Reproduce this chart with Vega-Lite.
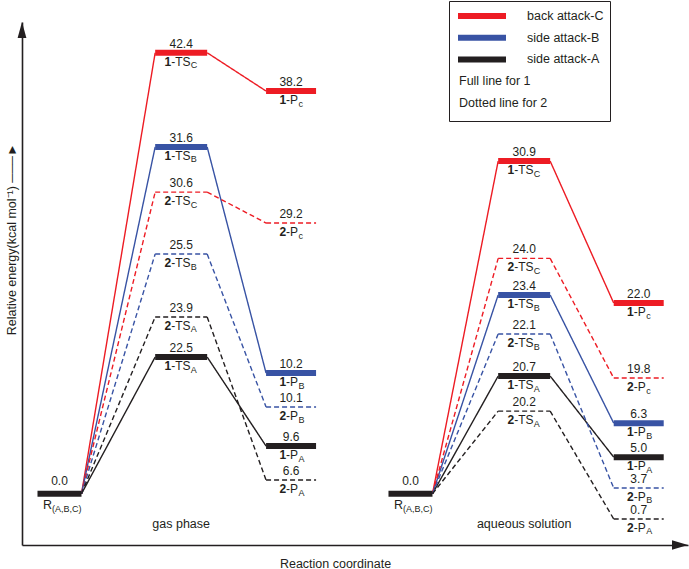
{
  "$schema": "https://vega.github.io/schema/vega-lite/v6.json",
  "width": 666,
  "height": 523,
  "autosize": {"type": "none"},
  "padding": {"left": 22, "top": 22, "right": 1, "bottom": 24},
  "background": "white",
  "datasets": {
    "paths": [
      {"phase": "gas", "cpd": "1", "attack": "back attack-C", "e_ts": 42.4, "lv_ts": 42.16, "e_p": 38.2, "lv_p": 38.5, "sub_ts": "C", "sub_p": "c"},
      {"phase": "gas", "cpd": "1", "attack": "side attack-B", "e_ts": 31.6, "lv_ts": 33.15, "e_p": 10.2, "lv_p": 11.54, "sub_ts": "B", "sub_p": "B"},
      {"phase": "gas", "cpd": "1", "attack": "side attack-A", "e_ts": 22.5, "lv_ts": 13.07, "e_p": 9.6, "lv_p": 4.56, "sub_ts": "A", "sub_p": "A"},
      {"phase": "gas", "cpd": "2", "attack": "back attack-C", "e_ts": 30.6, "lv_ts": 28.84, "e_p": 29.2, "lv_p": 25.88, "sub_ts": "C", "sub_p": "c"},
      {"phase": "gas", "cpd": "2", "attack": "side attack-B", "e_ts": 25.5, "lv_ts": 22.92, "e_p": 10.1, "lv_p": 8.29, "sub_ts": "B", "sub_p": "B"},
      {"phase": "gas", "cpd": "2", "attack": "side attack-A", "e_ts": 23.9, "lv_ts": 16.9, "e_p": 6.6, "lv_p": 1.31, "sub_ts": "A", "sub_p": "A"},
      {"phase": "aqueous", "cpd": "1", "attack": "back attack-C", "e_ts": 30.9, "lv_ts": 31.8, "e_p": 22.0, "lv_p": 18.23, "sub_ts": "C", "sub_p": "c"},
      {"phase": "aqueous", "cpd": "1", "attack": "side attack-B", "e_ts": 23.4, "lv_ts": 19.0, "e_p": 6.3, "lv_p": 6.75, "sub_ts": "B", "sub_p": "B"},
      {"phase": "aqueous", "cpd": "1", "attack": "side attack-A", "e_ts": 20.7, "lv_ts": 11.25, "e_p": 5.0, "lv_p": 3.5, "sub_ts": "A", "sub_p": "A"},
      {"phase": "aqueous", "cpd": "2", "attack": "back attack-C", "e_ts": 24.0, "lv_ts": 22.5, "e_p": 19.8, "lv_p": 11.06, "sub_ts": "C", "sub_p": "c"},
      {"phase": "aqueous", "cpd": "2", "attack": "side attack-B", "e_ts": 22.1, "lv_ts": 15.27, "e_p": 3.7, "lv_p": 0.55, "sub_ts": "B", "sub_p": "B"},
      {"phase": "aqueous", "cpd": "2", "attack": "side attack-A", "e_ts": 20.2, "lv_ts": 7.9, "e_p": 0.7, "lv_p": -2.41, "sub_ts": "A", "sub_p": "A"}
    ],
    "stages": [
      {"phase": "gas", "label": "gas phase", "rc_r": 5.63, "rc_ts": 23.9, "rc_p": 40.4, "e_r": 0.0, "lv_r": 0},
      {"phase": "aqueous", "label": "aqueous solution", "rc_r": 58.33, "rc_ts": 75.4, "rc_p": 92.6, "e_r": 0.0, "lv_r": 0}
    ]
  },
  "config": {
    "font": "Liberation Sans",
    "view": {"stroke": null},
    "text": {"color": "#231f20", "fontSize": 12, "font": "Liberation Sans"},
    "axis": {"titleFont": "Liberation Sans", "titleFontWeight": "normal", "titleFontSize": 12.5, "titleColor": "#231f20"}
  },
  "layer": [
    {
      "data": {"name": "paths"},
      "transform": [
        {"lookup": "phase", "from": {"data": {"name": "stages"}, "key": "phase", "fields": ["rc_r", "rc_ts", "rc_p", "lv_r"]}}
      ],
      "layer": [
        {
          "mark": {"type": "rule", "strokeWidth": 1.4, "xOffset": 22, "x2Offset": -26},
          "encoding": {
            "x": {"field": "rc_r", "type": "quantitative", "scale": {"domain": [0, 100], "nice": false, "zero": false},
              "axis": {"title": "Reaction coordinate", "ticks": false, "labels": false, "grid": false, "domainColor": "#231f20", "domainWidth": 1.6, "titleX": 313, "titlePadding": 12}},
            "x2": {"field": "rc_ts"},
            "y": {"field": "lv_r", "type": "quantitative", "scale": {"domain": [-4.9, 45.1], "nice": false, "zero": false},
              "axis": {"title": "Relative energy(kcal mol⁻¹)  ───►", "ticks": false, "labels": false, "grid": false, "domainColor": "#231f20", "domainWidth": 1.6, "titleX": -4, "titleY": 217, "titleAngle": -90, "titleBaseline": "bottom", "titleAlign": "center"}},
            "y2": {"field": "lv_ts"},
            "color": {"field": "attack", "type": "nominal",
              "scale": {"domain": ["back attack-C", "side attack-B", "side attack-A", "Full line for 1", "Dotted line for 2"], "range": ["#ed1c24", "#3853a4", "#231f20", "transparent", "transparent"]},
              "legend": {"title": null, "orient": "none", "legendX": 427, "legendY": -21, "symbolType": "M-1,0H7", "symbolSize": 144, "symbolStrokeWidth": 6, "labelFontSize": 12.5, "labelFont": "Liberation Sans", "labelColor": "#231f20", "labelOffset": 54, "padding": 6, "strokeColor": "#231f20", "fillColor": "white", "rowPadding": -2.3,
                "labelExpr": "datum.label == 'back attack-C' ? datum.label + '\u00a0\u00a0\u00a0\u00a0\u00a0\u00a0\u00a0' : datum.label",
                "encode": {"labels": {"update": {"dx": {"signal": "datum.label == 'Full line for 1' || datum.label == 'Dotted line for 2' ? -68 : 0"}}}}}},
            "strokeDash": {"condition": {"test": "datum.cpd == '2'", "value": [5, 3]}, "value": [1, 0]}
          }
        },
        {
          "mark": {"type": "rule", "strokeWidth": 1.4, "xOffset": 26, "x2Offset": -25},
          "encoding": {
            "x": {"field": "rc_ts", "type": "quantitative"},
            "x2": {"field": "rc_p"},
            "y": {"field": "lv_ts", "type": "quantitative"},
            "y2": {"field": "lv_p"},
            "color": {"field": "attack", "type": "nominal"},
            "strokeDash": {"condition": {"test": "datum.cpd == '2'", "value": [5, 3]}, "value": [1, 0]}
          }
        },
        {
          "mark": {"type": "rule", "xOffset": -26, "x2Offset": 26},
          "encoding": {
            "x": {"field": "rc_ts", "type": "quantitative"},
            "x2": {"field": "rc_ts"},
            "y": {"field": "lv_ts", "type": "quantitative"},
            "color": {"field": "attack", "type": "nominal"},
            "strokeWidth": {"condition": {"test": "datum.cpd == '2'", "value": 1.4}, "value": 6},
            "strokeDash": {"condition": {"test": "datum.cpd == '2'", "value": [5, 3]}, "value": [1, 0]}
          }
        },
        {
          "mark": {"type": "rule", "xOffset": -25, "x2Offset": 25},
          "encoding": {
            "x": {"field": "rc_p", "type": "quantitative"},
            "x2": {"field": "rc_p"},
            "y": {"field": "lv_p", "type": "quantitative"},
            "color": {"field": "attack", "type": "nominal"},
            "strokeWidth": {"condition": {"test": "datum.cpd == '2'", "value": 1.4}, "value": 6},
            "strokeDash": {"condition": {"test": "datum.cpd == '2'", "value": [5, 3]}, "value": [1, 0]}
          }
        },
        {
          "mark": {"type": "text", "align": "center", "baseline": "alphabetic", "dy": -5},
          "encoding": {
            "x": {"field": "rc_ts", "type": "quantitative"},
            "y": {"field": "lv_ts", "type": "quantitative"},
            "text": {"field": "e_ts", "type": "quantitative", "format": ".1f"}
          }
        },
        {
          "mark": {"type": "text", "align": "center", "baseline": "alphabetic", "dy": -5},
          "encoding": {
            "x": {"field": "rc_p", "type": "quantitative"},
            "y": {"field": "lv_p", "type": "quantitative"},
            "text": {"field": "e_p", "type": "quantitative", "format": ".1f"}
          }
        },
        {
          "mark": {"type": "text", "align": "right", "baseline": "alphabetic", "dx": -10, "dy": 13, "fontWeight": "bold"},
          "encoding": {
            "x": {"field": "rc_ts", "type": "quantitative"},
            "y": {"field": "lv_ts", "type": "quantitative"},
            "text": {"field": "cpd"}
          }
        },
        {
          "mark": {"type": "text", "align": "left", "baseline": "alphabetic", "dx": -10, "dy": 13, "text": "-TS"},
          "encoding": {
            "x": {"field": "rc_ts", "type": "quantitative"},
            "y": {"field": "lv_ts", "type": "quantitative"}
          }
        },
        {
          "mark": {"type": "text", "align": "left", "baseline": "alphabetic", "dx": 9.5, "dy": 15.5, "fontSize": 9},
          "encoding": {
            "x": {"field": "rc_ts", "type": "quantitative"},
            "y": {"field": "lv_ts", "type": "quantitative"},
            "text": {"field": "sub_ts"}
          }
        },
        {
          "mark": {"type": "text", "align": "right", "baseline": "alphabetic", "dx": -5, "dy": 13, "fontWeight": "bold"},
          "encoding": {
            "x": {"field": "rc_p", "type": "quantitative"},
            "y": {"field": "lv_p", "type": "quantitative"},
            "text": {"field": "cpd"}
          }
        },
        {
          "mark": {"type": "text", "align": "left", "baseline": "alphabetic", "dx": -5, "dy": 13, "text": "-P"},
          "encoding": {
            "x": {"field": "rc_p", "type": "quantitative"},
            "y": {"field": "lv_p", "type": "quantitative"}
          }
        },
        {
          "mark": {"type": "text", "align": "left", "baseline": "alphabetic", "dx": 7.5, "dy": 15.5, "fontSize": 9},
          "encoding": {
            "x": {"field": "rc_p", "type": "quantitative"},
            "y": {"field": "lv_p", "type": "quantitative"},
            "text": {"field": "sub_p"}
          }
        }
      ]
    },
    {
      "data": {"name": "stages"},
      "layer": [
        {
          "mark": {"type": "rule", "strokeWidth": 6, "color": "#231f20", "xOffset": -22, "x2Offset": 22},
          "encoding": {
            "x": {"field": "rc_r", "type": "quantitative"},
            "x2": {"field": "rc_r"},
            "y": {"field": "lv_r", "type": "quantitative"}
          }
        },
        {
          "mark": {"type": "text", "align": "center", "baseline": "alphabetic", "dy": -9},
          "encoding": {
            "x": {"field": "rc_r", "type": "quantitative"},
            "y": {"field": "lv_r", "type": "quantitative"},
            "text": {"field": "e_r", "type": "quantitative", "format": ".1f"}
          }
        },
        {
          "mark": {"type": "text", "align": "left", "baseline": "alphabetic", "dx": -16.5, "dy": 15, "text": "R", "fontSize": 12.5},
          "encoding": {
            "x": {"field": "rc_r", "type": "quantitative"},
            "y": {"field": "lv_r", "type": "quantitative"}
          }
        },
        {
          "mark": {"type": "text", "align": "left", "baseline": "alphabetic", "dx": -7.5, "dy": 18.5, "text": "(A,B,C)", "fontSize": 9},
          "encoding": {
            "x": {"field": "rc_r", "type": "quantitative"},
            "y": {"field": "lv_r", "type": "quantitative"}
          }
        },
        {
          "mark": {"type": "text", "align": "center", "baseline": "middle", "fontSize": 12.5},
          "encoding": {
            "x": {"field": "rc_ts", "type": "quantitative"},
            "y": {"datum": -2.9, "type": "quantitative"},
            "text": {"field": "label"}
          }
        }
      ]
    },
    {
      "data": {"values": [{}]},
      "layer": [
        {
          "mark": {"type": "point", "shape": "M1,0L-1,-0.6L-1,0.6Z", "size": 256, "filled": true, "opacity": 1, "color": "#231f20", "xOffset": -8},
          "encoding": {
            "x": {"datum": 100, "type": "quantitative"},
            "y": {"datum": -4.9, "type": "quantitative"}
          }
        },
        {
          "mark": {"type": "point", "shape": "M0,-1L-0.55,1L0.55,1Z", "size": 256, "filled": true, "opacity": 1, "color": "#231f20", "yOffset": 8},
          "encoding": {
            "x": {"datum": 0, "type": "quantitative"},
            "y": {"datum": 45.1, "type": "quantitative"}
          }
        }
      ]
    }
  ]
}
